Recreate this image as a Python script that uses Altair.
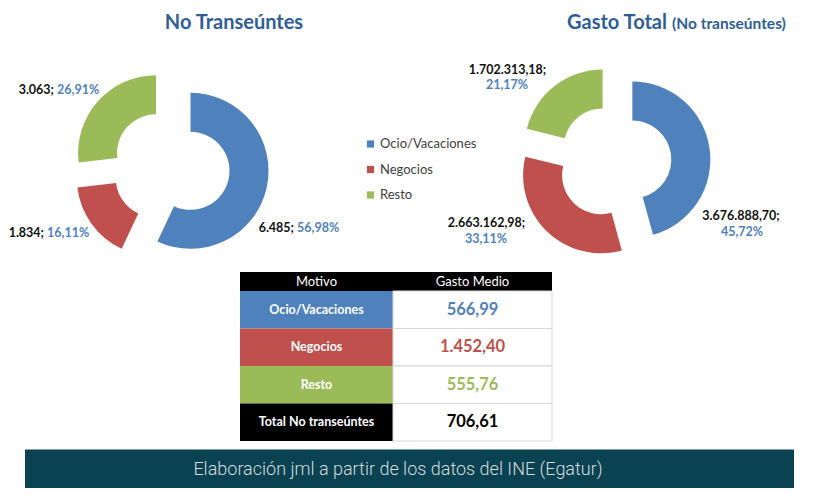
import math
import altair as alt
import pandas as pd

# ---------------- data ----------------
categories = ["Ocio/Vacaciones", "Negocios", "Resto"]
viajeros_miles = [6485, 1834, 3063]
gasto_total = [3676888.70, 2663162.98, 1702313.18]
gasto_medio = [566.99, 1452.40, 555.76]
total_label = "Total No transeúntes"
total_gasto_medio = 706.61
colors = ["#4F81BD", "#C0504D", "#9BBB59"]

title_left = "No Transeúntes"
title_right_main = "Gasto Total"
title_right_sub = "(No transeúntes)"
table_headers = ["Motivo", "Gasto Medio"]
footer_text = "Elaboración jml a partir de los datos del INE (Egatur)"


def es(v, dec):
    s = f"{v:,.{dec}f}"
    return s.replace(",", "X").replace(".", ",").replace("X", ".")


# ---------------- layout (chart pixels; page = chart + 8) ----------------
W, H = 803, 480
M = 8
FONT = "Lato"
TITLE_COLOR = "#2F5E97"
PCT_COLOR = "#4F81BD"

LEFT = dict(cx=171 - M, cy=166.5 - M, R=78, r=39, D=20)
RIGHT = dict(cx=614 - M, cy=162 - M, R=78, r=39, D=18.5)

# left donut labels: (split x, y) in page coords
LEFT_LAB = [(294, 228), (44, 233), (54, 90)]
# right donut labels: (x1, y1, x2, y2) in page coords
RIGHT_LAB = [(741, 216, 742, 232), (486.5, 223, 486, 239), (507.5, 70, 507, 85)]

TAB_L, TAB_S, TAB_R = 240 - M, 393 - M, 552 - M
TAB_HEAD_T, TAB_HEAD_B, TAB_B = 272 - M, 291 - M, 441 - M

COLOR = alt.Color(
    "Motivo:N",
    scale=alt.Scale(domain=categories, range=colors),
    legend=alt.Legend(
        orient="none", legendX=356, legendY=129.5, title=None,
        symbolType="square", symbolSize=52, symbolStrokeWidth=0,
        labelFont=FONT, labelFontSize=13, labelColor="#404040",
        rowPadding=11.5, labelOffset=3, padding=0,
    ),
)


def donut(values, g):
    df = pd.DataFrame({"Motivo": categories, "value": values, "idx": list(range(len(values)))})
    base = (
        alt.Chart(df)
        .transform_joinaggregate(total="sum(value)")
        .transform_window(cum="sum(value)", sort=[alt.SortField("idx", order="ascending")], frame=[None, 0])
        .transform_calculate(
            f0="(datum.cum - datum.value) / datum.total",
            f1="datum.cum / datum.total",
        )
        .transform_calculate(mid="PI * (datum.f0 + datum.f1)")
        .transform_calculate(
            px=f"{g['cx']} + {g['D']} * sin(datum.mid)",
            py=f"{g['cy']} - {g['D']} * cos(datum.mid)",
        )
    )
    return base.mark_arc(outerRadius=g["R"], innerRadius=g["r"], strokeWidth=0).encode(
        x=alt.X("px:Q", scale=None, axis=None),
        y=alt.Y("py:Q", scale=None, axis=None),
        theta=alt.Theta("f0:Q", stack=None, scale=alt.Scale(domain=[0, 1], range=[0, 2 * math.pi])),
        theta2="f1:Q",
        color=COLOR,
        order=alt.Order("idx:Q"),
    )


def pcts(values):
    t = sum(values)
    return [es(100 * v / t, 2) + "%" for v in values]


# left labels
lp = pcts(viajeros_miles)
left_lab = pd.DataFrame({
    "num": [es(v, 0) + ";" for v in viajeros_miles],
    "pct": lp,
    "xn": [p[0] - M for p in LEFT_LAB],
    "xp": [p[0] + 3 - M for p in LEFT_LAB],
    "y": [p[1] - M for p in LEFT_LAB],
})
left_num = alt.Chart(left_lab).mark_text(align="right", baseline="middle", font=FONT, fontSize=12.5, fontWeight="bold", color="#111111").encode(
    x=alt.X("xn:Q", scale=None, axis=None), y=alt.Y("y:Q", scale=None, axis=None), text="num:N")
left_pct = alt.Chart(left_lab).mark_text(align="left", baseline="middle", font=FONT, fontSize=12.5, fontWeight="bold", color=PCT_COLOR).encode(
    x=alt.X("xp:Q", scale=None, axis=None), y=alt.Y("y:Q", scale=None, axis=None), text="pct:N")

rp = pcts(gasto_total)
right_lab = pd.DataFrame({
    "num": [es(v, 2) + ";" for v in gasto_total],
    "pct": rp,
    "x1": [p[0] - M for p in RIGHT_LAB],
    "y1": [p[1] - M for p in RIGHT_LAB],
    "x2": [p[2] - M for p in RIGHT_LAB],
    "y2": [p[3] - M for p in RIGHT_LAB],
})
right_num = alt.Chart(right_lab).mark_text(align="center", baseline="middle", font=FONT, fontSize=12.5, fontWeight="bold", color="#111111").encode(
    x=alt.X("x1:Q", scale=None, axis=None), y=alt.Y("y1:Q", scale=None, axis=None), text="num:N")
right_pct = alt.Chart(right_lab).mark_text(align="center", baseline="middle", font=FONT, fontSize=12.5, fontWeight="bold", color=PCT_COLOR).encode(
    x=alt.X("x2:Q", scale=None, axis=None), y=alt.Y("y2:Q", scale=None, axis=None), text="pct:N")

# titles
one = pd.DataFrame({"a": [0]})
t1 = alt.Chart(one).mark_text(align="center", baseline="alphabetic", font=FONT, fontSize=20, fontWeight="bold", color=TITLE_COLOR, text=title_left).encode(
    x=alt.value(234 - M), y=alt.value(29 - M))
t2 = alt.Chart(one).mark_text(align="right", baseline="alphabetic", font=FONT, fontSize=20, fontWeight="bold", color=TITLE_COLOR, text=title_right_main).encode(
    x=alt.value(667 - M), y=alt.value(29 - M))
t3 = alt.Chart(one).mark_text(align="left", baseline="alphabetic", font=FONT, fontSize=15.5, fontWeight="bold", color=TITLE_COLOR, text=title_right_sub).encode(
    x=alt.value(672 - M), y=alt.value(29 - M))

# table
rows = categories + [total_label]
tab = pd.DataFrame({
    "Motivo": rows,
    "medio": [es(v, 2) for v in gasto_medio + [total_gasto_medio]],
})


def yrow():
    return alt.Y("Motivo:N", axis=None, sort=rows,
                 scale=alt.Scale(domain=rows, range=[TAB_HEAD_B, TAB_B], paddingInner=0, paddingOuter=0))


is_total = alt.datum.Motivo == total_label

head_rect = alt.Chart(one).mark_rect(color="#000000").encode(
    x=alt.value(TAB_L), x2=alt.value(TAB_R), y=alt.value(TAB_HEAD_T), y2=alt.value(TAB_HEAD_B))
head_df = pd.DataFrame({"h": table_headers, "x": [(TAB_L + TAB_S) / 2, (TAB_S + TAB_R) / 2]})
head_txt = alt.Chart(head_df).mark_text(align="center", baseline="middle", font=FONT, fontSize=13, color="white").encode(
    x=alt.X("x:Q", scale=None, axis=None), y=alt.value((TAB_HEAD_T + TAB_HEAD_B) / 2), text="h:N")

lab_rect = alt.Chart(tab).mark_rect().encode(
    x=alt.value(TAB_L), x2=alt.value(TAB_S), y=yrow(),
    color=alt.condition(is_total, alt.value("#000000"), COLOR))
val_rect = alt.Chart(tab).mark_rect(color="white", stroke="#D9D9D9", strokeWidth=1).encode(
    x=alt.value(TAB_S), x2=alt.value(TAB_R), y=yrow())
lab_txt = alt.Chart(tab).mark_text(align="center", baseline="middle", font=FONT, fontSize=12.5, fontWeight="bold", color="white").encode(
    x=alt.value((TAB_L + TAB_S) / 2), y=yrow(), text="Motivo:N")
val_txt = alt.Chart(tab).mark_text(align="center", baseline="middle", font=FONT, fontSize=16.5, fontWeight="bold").encode(
    x=alt.value((TAB_S + TAB_R) / 2), y=yrow(), text="medio:N",
    color=alt.condition(is_total, alt.value("#000000"), COLOR))

# footer
foot_rect = alt.Chart(one).mark_rect(color="#0B4252").encode(
    x=alt.value(25 - M), x2=alt.value(794 - M), y=alt.value(449.5 - M), y2=alt.value(H))
foot_txt = alt.Chart(one).mark_text(align="center", baseline="middle", font="Roboto", fontSize=18, fontWeight=300, color="#D2DCDF", text=footer_text).encode(
    x=alt.value(398 - M), y=alt.value(470 - M))

chart = (
    alt.layer(
        donut(viajeros_miles, LEFT), donut(gasto_total, RIGHT),
        left_num, left_pct, right_num, right_pct,
        t1, t2, t3,
        head_rect, head_txt, lab_rect, val_rect, lab_txt, val_txt,
        foot_rect, foot_txt,
    )
    .resolve_scale(x="independent", y="independent", theta="independent")
    .properties(width=W, height=H, padding=0, autosize=alt.AutoSizeParams(type="none"), background="white")
    .configure_view(stroke=None)
)

chart.save("out.html", embed_options={"renderer": "svg", "actions": False})
